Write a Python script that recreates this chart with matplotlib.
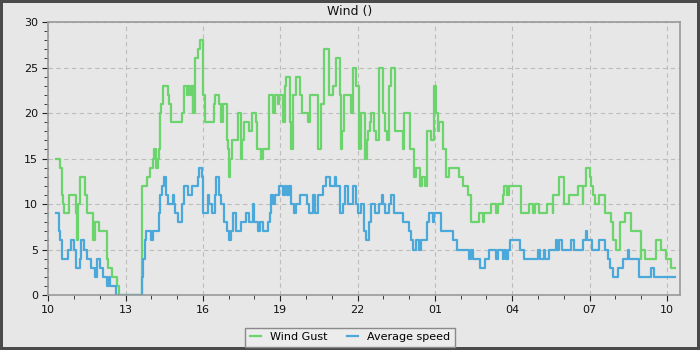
import datetime as dt
import matplotlib
matplotlib.use("Agg")
import matplotlib.pyplot as plt
import matplotlib.dates as mdates
from matplotlib.ticker import MultipleLocator

# readings, minutes after 10:00, value kept until the next change
start = dt.datetime(2024, 1, 1, 10, 0)

gust_min = [18, 28, 31, 34, 36, 48, 65, 66, 70, 74, 86, 90, 105, 109, 117, 136, 140,
            149, 160, 164, 217, 230, 236, 243, 246, 250, 255, 258, 259, 263, 268, 278,
            282, 286, 312, 315, 317, 323, 326, 330, 333, 336, 338, 340, 342, 348, 353,
            361, 364, 385, 388, 397, 401, 406, 416, 419, 420, 423, 427, 441, 449, 452,
            456, 468, 475, 484, 486, 496, 500, 513, 523, 527, 534, 538, 546, 550, 554,
            562, 566, 570, 577, 587, 591, 604, 610, 629, 635, 643, 653, 662, 669, 680,
            682, 684, 688, 705, 709, 717, 724, 727, 738, 742, 744, 748, 752, 759, 763,
            770, 779, 784, 788, 793, 798, 808, 825, 827, 841, 852, 856, 866, 869, 878,
            882, 891, 897, 903, 907, 909, 919, 925, 926, 934, 956, 965, 977, 985, 1002,
            1012, 1014, 1031, 1043, 1047, 1058, 1062, 1069, 1072, 1101, 1120, 1128, 1132,
            1142, 1162, 1175, 1176, 1190, 1200, 1212, 1233, 1244, 1246, 1252, 1262, 1264,
            1269, 1273, 1281, 1295, 1310, 1314, 1322, 1330, 1343, 1357, 1379, 1380, 1390,
            1415, 1427, 1438, 1449, 1458]
gust_val = [15, 14, 11, 10, 9, 11, 9, 6, 10, 13, 11, 9, 6, 8, 7, 4, 3,
            2, 1, 0, 12, 13, 14, 15, 16, 14, 15, 16, 20, 21, 23, 22,
            21, 19, 20, 21, 23, 22, 23, 22, 23, 20, 23, 20, 26, 27, 28,
            22, 19, 21, 22, 21, 19, 21, 17, 16, 13, 15, 17, 20, 15, 17,
            19, 18, 20, 19, 16, 15, 16, 22, 20, 22, 21, 22, 19, 23, 24,
            19, 16, 22, 24, 22, 20, 19, 22, 16, 21, 27, 22, 23, 26, 22,
            16, 18, 22, 20, 25, 23, 16, 20, 15, 17, 18, 19, 20, 18, 17,
            25, 20, 18, 17, 23, 25, 18, 16, 20, 16, 13, 14, 12, 13, 12,
            18, 17, 23, 20, 18, 19, 16, 15, 13, 14, 13, 12, 11, 8, 9,
            8, 9, 10, 9, 10, 11, 12, 11, 12, 9, 10, 9, 10,
            9, 10, 9, 11, 13, 10, 11, 12, 10, 12, 14, 13, 12,
            11, 10, 11, 9, 8, 6, 5, 8, 9, 7, 4, 5, 4,
            6, 5, 4, 3, 3]

avg_min = [18, 24, 28, 31, 47, 53, 59, 65, 73, 76, 84, 90, 100, 108, 113, 121, 128,
           136, 141, 144, 158, 218, 220, 224, 228, 240, 244, 257, 260, 265, 270, 273,
           278, 291, 293, 296, 302, 312, 317, 325, 335, 348, 352, 358, 361, 371, 375,
           381, 387, 391, 397, 402, 410, 416, 420, 426, 431, 436, 449, 461, 468, 476,
           480, 488, 492, 500, 511, 515, 519, 523, 527, 538, 546, 550, 556, 560, 565,
           572, 577, 585, 603, 608, 616, 622, 629, 639, 647, 655, 668, 670, 678, 686,
           691, 697, 709, 717, 721, 728, 736, 740, 746, 752, 760, 771, 777, 779, 785,
           794, 798, 804, 825, 839, 845, 849, 857, 864, 867, 881, 886, 895, 897, 915,
           942, 951, 977, 980, 983, 988, 1006, 1017, 1025, 1043, 1048, 1058, 1062, 1066,
           1070, 1074, 1099, 1107, 1140, 1144, 1155, 1157, 1165, 1182, 1184, 1190, 1196,
           1217, 1223, 1245, 1252, 1254, 1266, 1283, 1295, 1303, 1308, 1314, 1326, 1338,
           1350, 1353, 1376, 1404, 1410, 1458]
avg_val = [9, 7, 6, 4, 5, 6, 5, 3, 4, 6, 5, 4, 3, 2, 4, 3, 2,
           1, 2, 1, 0, 2, 4, 6, 7, 6, 7, 9, 11, 12, 13, 11,
           10, 11, 10, 9, 8, 10, 12, 11, 12, 13, 14, 13, 9, 11, 10,
           9, 11, 13, 11, 10, 8, 7, 6, 7, 9, 7, 8, 9, 8, 10,
           8, 7, 8, 7, 8, 9, 11, 10, 11, 12, 11, 12, 11, 12, 10,
           9, 10, 11, 10, 9, 11, 9, 11, 12, 13, 12, 13, 12, 9, 10,
           12, 10, 12, 10, 9, 10, 7, 6, 8, 10, 9, 10, 11, 10, 9,
           10, 11, 9, 8, 7, 6, 5, 6, 5, 6, 8, 9, 8, 9, 7,
           6, 5, 5, 4, 5, 4, 3, 4, 5, 4, 5, 4, 5, 4,
           5, 6, 5, 4, 5, 4, 5, 4, 5, 6, 5, 6, 5,
           6, 5, 6, 7, 6, 5, 6, 5, 4, 3, 2, 3, 4,
           5, 4, 2, 3, 2, 2]

gust_t = [start + dt.timedelta(minutes=m) for m in gust_min]
avg_t = [start + dt.timedelta(minutes=m) for m in avg_min]

bg = "#e7e7e7"
fig = plt.figure(figsize=(7, 3.5), dpi=100, facecolor=bg)
fig.patch.set_edgecolor("#4a4a4a")
fig.patch.set_linewidth(3)
ax = fig.add_axes([0.069, 0.157, 0.902, 0.78], facecolor=bg)

ax.plot(gust_t, gust_val, drawstyle="steps-post", color="#6cd46c", lw=1.6, label="Wind Gust")
ax.plot(avg_t, avg_val, drawstyle="steps-post", color="#4aa8da", lw=1.6, label="Average speed")

ax.set_xlim(start, start + dt.timedelta(minutes=1470))
ax.set_ylim(0, 30)
ax.xaxis.set_major_locator(mdates.HourLocator(byhour=[1, 4, 7, 10, 13, 16, 19, 22]))
ax.xaxis.set_minor_locator(mdates.HourLocator())
ax.xaxis.set_major_formatter(mdates.DateFormatter("%H"))
ax.yaxis.set_major_locator(MultipleLocator(5))
ax.yaxis.set_minor_locator(MultipleLocator(1))
ax.tick_params(which="both", direction="out", color="#222222", labelsize=8, labelcolor="#111111")
ax.tick_params(which="major", length=4)
ax.tick_params(which="minor", length=3)
ax.grid(True, which="major", ls=(0, (4, 3)), color="#bdbdbd", lw=0.8)
ax.set_axisbelow(True)
for s in ax.spines.values():
    s.set_color("#9a9a9a")
    s.set_linewidth(1.2)

fig.text(0.5, 0.967, "Wind ()", ha="center", va="center", fontsize=9, color="#111111")

leg = fig.legend(loc="lower center", bbox_to_anchor=(0.5, -0.006), ncol=2, fontsize=8,
                 frameon=True, fancybox=False, edgecolor="#8a8a8a", facecolor="#ececec",
                 framealpha=1, handlelength=1.0, columnspacing=1.8, borderpad=0.4)
leg.get_frame().set_linewidth(1.0)

fig.savefig("out.png", dpi=100, facecolor=bg, edgecolor=fig.patch.get_edgecolor())
